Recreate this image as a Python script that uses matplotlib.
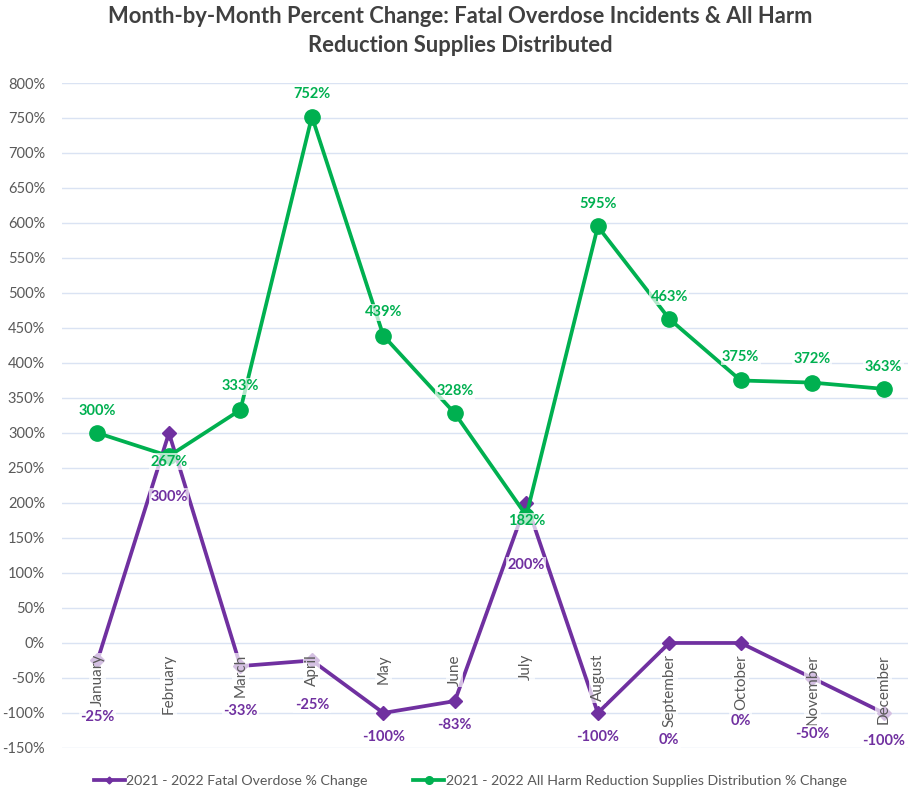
import matplotlib.pyplot as plt
from matplotlib.ticker import FuncFormatter, MultipleLocator

months = ["January", "February", "March", "April", "May", "June", "July",
          "August", "September", "October", "November", "December"]
fatal_change = [-25, 300, -33, -25, -100, -83, 200, -100, 0, 0, -50, -100]
supplies_change = [300, 267, 333, 752, 439, 328, 182, 595, 463, 375, 372, 363]

# label offsets in points (Excel had them nudged by hand)
fatal_label_dy = [-41, -46, -32, -32, -17, -17, -45, -17, -70, -56, -40, -20]
supplies_label_dy = [16, -4, 17, 16, 17, 16, -4, 16, 16, 17, 17, 16]

PURPLE = "#7030A0"
GREEN = "#00B050"
GRAY = "#595959"

plt.rcParams["font.family"] = ["Lato", "DejaVu Sans"]

fig = plt.figure(figsize=(9.08, 7.92), dpi=100)
ax = fig.add_axes([0.068, 0.0556, 0.932, 0.8396])

x = list(range(len(months)))
ax.plot(x, fatal_change, color=PURPLE, lw=2.7, marker="D", ms=7, zorder=3,
        label="2021 - 2022 Fatal Overdose % Change")
ax.plot(x, supplies_change, color=GREEN, lw=2.7, marker="o", ms=11, zorder=4,
        label="2021 - 2022 All Harm Reduction Supplies Distribution % Change")

box = dict(boxstyle="square,pad=0.1", fc="white", ec="none", alpha=0.7)
for i, m in enumerate(months):
    ax.annotate(m, xy=(i, 0), xytext=(0, -8), textcoords="offset points",
                rotation=90, ha="center", va="top", fontsize=11, color=GRAY,
                bbox=box, zorder=5)
    ax.annotate(f"{fatal_change[i]}%", xy=(i, fatal_change[i]),
                xytext=(0, fatal_label_dy[i]), textcoords="offset points",
                ha="center", va="center", fontsize=10.5, fontweight="bold",
                color=PURPLE, bbox=box, zorder=6)
    ax.annotate(f"{supplies_change[i]}%", xy=(i, supplies_change[i]),
                xytext=(0, supplies_label_dy[i]), textcoords="offset points",
                ha="center", va="center", fontsize=10.5, fontweight="bold",
                color=GREEN, bbox=box, zorder=6)

ax.set_xlim(-0.5, 11.34)
ax.set_ylim(-150, 800)
ax.yaxis.set_major_locator(MultipleLocator(50))
ax.yaxis.set_major_formatter(FuncFormatter(lambda v, _: f"{v:.0f}%"))
ax.set_xticks([])
ax.tick_params(axis="y", length=0, labelsize=10.5, labelcolor=GRAY, pad=12)
ax.grid(axis="y", color="#DAE3F3", lw=1)
ax.set_axisbelow(True)
for s in ax.spines.values():
    s.set_visible(False)

fig.suptitle("Month-by-Month Percent Change: Fatal Overdose Incidents & All Harm\n"
             "Reduction Supplies Distributed",
             x=0.507, y=0.993, fontsize=15.8, fontweight="bold", color="#404040",
             linespacing=1.5)

fig.legend(loc="center", bbox_to_anchor=(0.518, 0.014), ncol=2, frameon=False,
           fontsize=10.2, labelcolor=GRAY, handlelength=2.2, columnspacing=3.2,
           markerscale=0.5, handletextpad=0.1)

fig.savefig("out.png", dpi=100)
